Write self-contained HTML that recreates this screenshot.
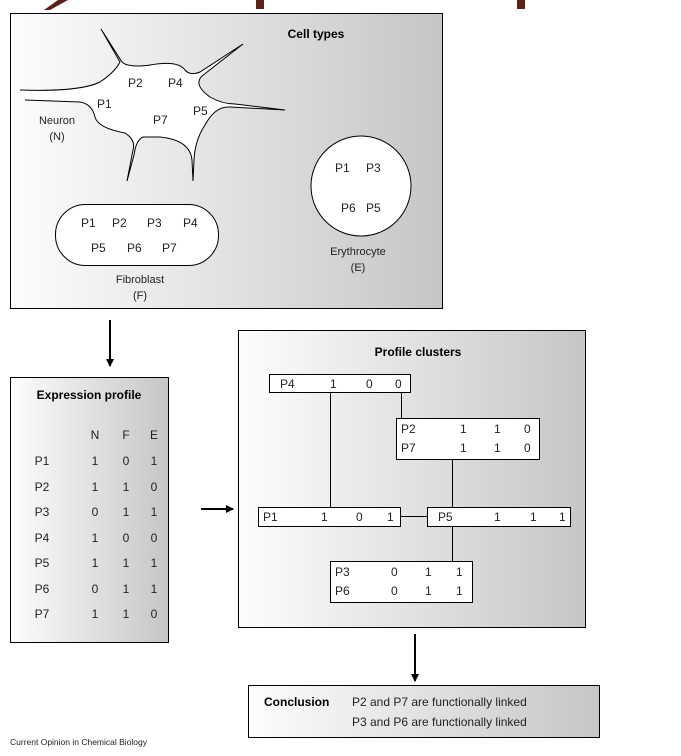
<!DOCTYPE html>
<html><head><meta charset="utf-8"><style>
body{margin:0;background:#fff;}
svg{display:block;font-family:"Liberation Sans",sans-serif;}
</style></head><body>
<svg width="681" height="756" viewBox="0 0 681 756">
<defs>
<linearGradient id="g" x1="0" x2="1" y1="0" y2="0"><stop offset="0" stop-color="#fdfdfd"/><stop offset="1" stop-color="#c6c6c6"/></linearGradient>
<marker id="a" markerWidth="8" markerHeight="8" refX="7" refY="4" orient="auto" markerUnits="userSpaceOnUse"><path d="M0,0 L8,4 L0,8 z" fill="#000"/></marker>
</defs>
<path d="M58,0 L68,0 L50,10 L44,10 z" fill="#5a2318"/>
<rect x="256" y="0" width="8" height="9" fill="#5a2318"/>
<rect x="517" y="0" width="8" height="9" fill="#5a2318"/>

<rect x="10.5" y="13.5" width="432" height="295" fill="url(#g)" stroke="#000"/>
<text x="316" y="38" font-size="12" font-weight="bold" text-anchor="middle">Cell types</text>
<path d="M20,90 Q80,92 100,82 Q115,72 120,62 L101,29 L122,62 Q128,68 150,65 Q178,60 185,70 Q190,76 200,72 L243,44 L202,76 Q193,85 210,97 Q222,104 235,104 L285,110 L230,107 Q215,106 205,125 Q195,140 194,160 L193,181 L192,160 Q190,140 160,137 L143,137 Q136,140 134,155 L127,181 L133,150 Q136,140 125,133 Q98,128 95,117 Q92,104 80,102 L25,100" fill="#fff" stroke="#000" stroke-width="1"/>
<g font-size="12" fill="#222">
<text x="128" y="87">P2</text><text x="168" y="87">P4</text>
<text x="97" y="108">P1</text><text x="153" y="124">P7</text><text x="193" y="115">P5</text>
<text x="57" y="124" text-anchor="middle" font-size="11">Neuron</text>
<text x="57" y="140" text-anchor="middle" font-size="11">(N)</text>
</g>
<rect x="55.5" y="204.5" width="163" height="61" rx="30" fill="#fff" stroke="#000"/>
<g font-size="12" fill="#222">
<text x="81" y="227">P1</text><text x="112" y="227">P2</text><text x="147" y="227">P3</text><text x="183" y="227">P4</text>
<text x="91" y="252">P5</text><text x="127" y="252">P6</text><text x="162" y="252">P7</text>
<text x="140" y="283" text-anchor="middle" font-size="11">Fibroblast</text>
<text x="140" y="299" text-anchor="middle" font-size="11">(F)</text>
</g>
<circle cx="361" cy="186" r="50" fill="#fff" stroke="#000"/>
<g font-size="12" fill="#222">
<text x="335" y="172">P1</text><text x="366" y="172">P3</text>
<text x="341" y="212">P6</text><text x="366" y="212">P5</text>
<text x="358" y="255" text-anchor="middle" font-size="11">Erythrocyte</text>
<text x="358" y="271" text-anchor="middle" font-size="11">(E)</text>
</g>

<line x1="110" y1="320" x2="110" y2="366" stroke="#000" stroke-width="2" marker-end="url(#a)"/>
<line x1="201" y1="509" x2="233" y2="509" stroke="#000" stroke-width="2" marker-end="url(#a)"/>
<line x1="415" y1="634" x2="415" y2="681" stroke="#000" stroke-width="2" marker-end="url(#a)"/>

<rect x="10.5" y="377.5" width="158" height="265" fill="url(#g)" stroke="#000"/>
<text x="89" y="399" font-size="12" font-weight="bold" text-anchor="middle">Expression profile</text>
<g font-size="12" fill="#222" text-anchor="middle">
<text x="95" y="439">N</text><text x="126" y="439">F</text><text x="154" y="439">E</text>
<text x="42" y="465">P1</text><text x="95" y="465">1</text><text x="126" y="465">0</text><text x="154" y="465">1</text>
<text x="42" y="491">P2</text><text x="95" y="491">1</text><text x="126" y="491">1</text><text x="154" y="491">0</text>
<text x="42" y="516">P3</text><text x="95" y="516">0</text><text x="126" y="516">1</text><text x="154" y="516">1</text>
<text x="42" y="542">P4</text><text x="95" y="542">1</text><text x="126" y="542">0</text><text x="154" y="542">0</text>
<text x="42" y="567">P5</text><text x="95" y="567">1</text><text x="126" y="567">1</text><text x="154" y="567">1</text>
<text x="42" y="593">P6</text><text x="95" y="593">0</text><text x="126" y="593">1</text><text x="154" y="593">1</text>
<text x="42" y="618">P7</text><text x="95" y="618">1</text><text x="126" y="618">1</text><text x="154" y="618">0</text>
</g>

<rect x="238.5" y="330.5" width="347" height="297" fill="url(#g)" stroke="#000"/>
<text x="418" y="356" font-size="12" font-weight="bold" text-anchor="middle">Profile clusters</text>
<g stroke="#000" fill="none">
<line x1="330.5" y1="392" x2="330.5" y2="507"/>
<line x1="401.5" y1="392" x2="401.5" y2="418"/>
<line x1="452.5" y1="459" x2="452.5" y2="507"/>
<line x1="400" y1="516.5" x2="427" y2="516.5"/>
<line x1="452.5" y1="526" x2="452.5" y2="561"/>
</g>
<g fill="#fff" stroke="#000">
<rect x="269.5" y="374.5" width="141" height="18"/>
<rect x="396.5" y="418.5" width="143" height="41"/>
<rect x="258.5" y="507.5" width="142" height="19"/>
<rect x="427.5" y="507.5" width="143" height="19"/>
<rect x="330.5" y="561.5" width="142" height="41"/>
</g>
<g font-size="12" fill="#222">
<text x="280" y="388">P4</text><text x="330" y="388">1</text><text x="366" y="388">0</text><text x="395" y="388">0</text>
<text x="401" y="433">P2</text><text x="460" y="433">1</text><text x="494" y="433">1</text><text x="524" y="433">0</text>
<text x="401" y="452">P7</text><text x="460" y="452">1</text><text x="494" y="452">1</text><text x="524" y="452">0</text>
<text x="263" y="521">P1</text><text x="321" y="521">1</text><text x="356" y="521">0</text><text x="387" y="521">1</text>
<text x="438" y="521">P5</text><text x="494" y="521">1</text><text x="530" y="521">1</text><text x="559" y="521">1</text>
<text x="335" y="576">P3</text><text x="391" y="576">0</text><text x="425" y="576">1</text><text x="456" y="576">1</text>
<text x="335" y="595">P6</text><text x="391" y="595">0</text><text x="425" y="595">1</text><text x="456" y="595">1</text>
</g>

<rect x="248.5" y="685.5" width="351" height="52" fill="url(#g)" stroke="#000"/>
<text x="264" y="706" font-size="12" font-weight="bold">Conclusion</text>
<g font-size="12" fill="#222">
<text x="352" y="706">P2 and P7 are functionally linked</text>
<text x="352" y="726">P3 and P6 are functionally linked</text>
</g>
<text x="10" y="745" font-size="8.5" fill="#222">Current Opinion in Chemical Biology</text>
</svg>
</body></html>
